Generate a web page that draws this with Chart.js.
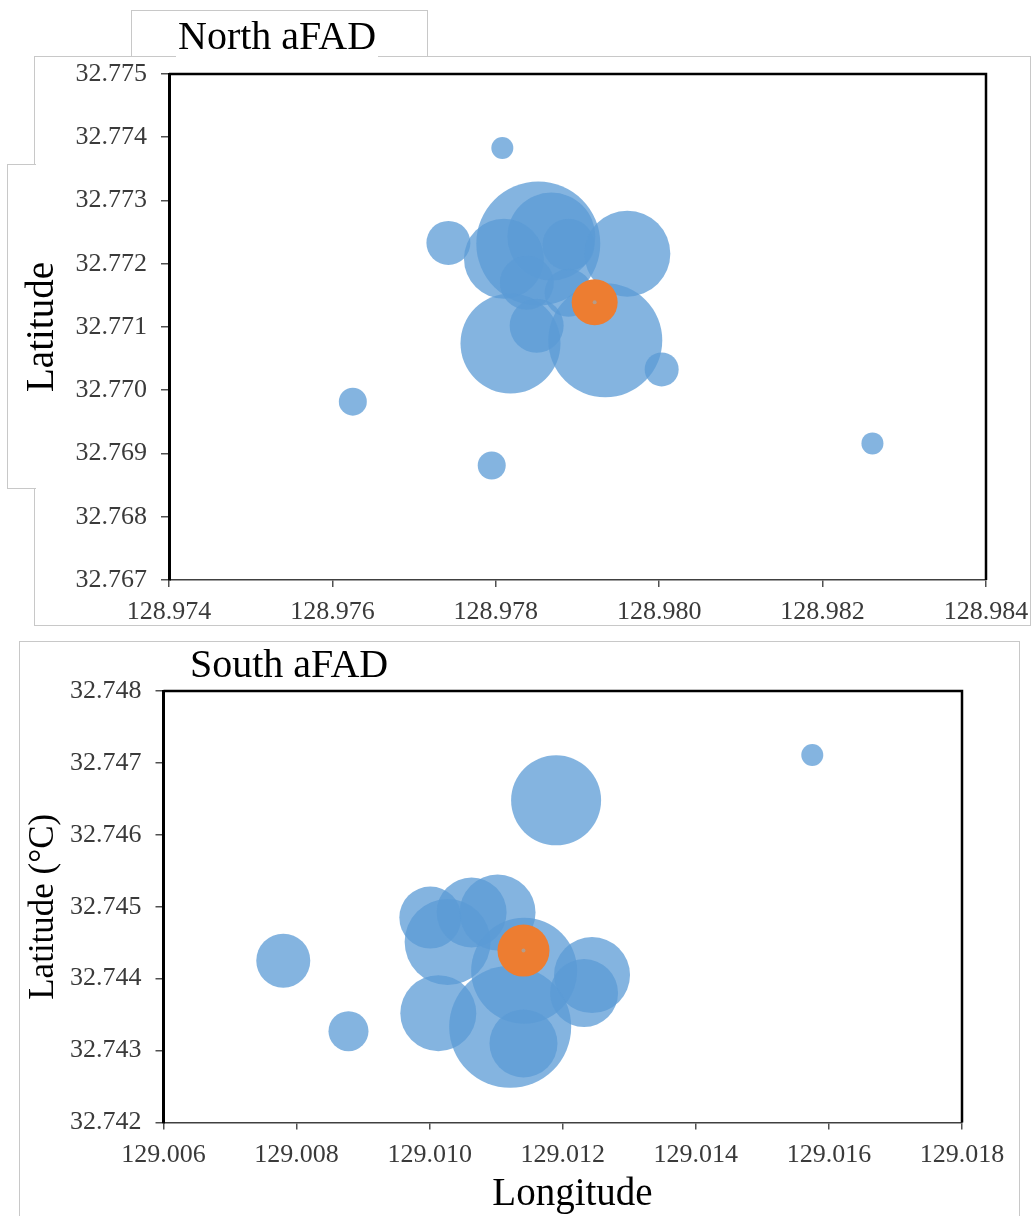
<!DOCTYPE html>
<html><head><meta charset="utf-8">
<script src="https://cdn.jsdelivr.net/npm/chart.js@4/dist/chart.umd.min.js"></script>
<style>
html,body{margin:0;padding:0;background:#fff;width:1036px;height:1216px;overflow:hidden;position:relative;font-family:"Liberation Serif","Times New Roman",serif}
.box{position:absolute;border:1px solid #c8c8c8;box-sizing:border-box}
.ttl{position:absolute;background:#fff;font-size:40px;line-height:40px;color:#000;white-space:nowrap;z-index:3}
canvas{position:absolute;left:0;z-index:2}
</style></head><body>
<div class="box" style="left:34px;top:56px;width:997px;height:570px"></div>
<div class="box" style="left:7px;top:164px;width:29px;height:325px;border-right:none;background:#fff;z-index:1"></div>
<div class="box" style="left:131px;top:10px;width:297px;height:46px;border-bottom:none"></div>
<div class="ttl" style="left:176px;top:16px;padding:0 2px;height:44px">North aFAD</div>
<div class="box" style="left:19px;top:641px;width:1001px;height:700px"></div>
<div class="ttl" style="left:190px;top:644px">South aFAD</div>
<canvas id="north" width="1036" height="640" style="top:0"></canvas>
<canvas id="south" width="1036" height="596" style="top:620px"></canvas>
<script>
// ---------- North aFAD ----------
const northLon  = [128.97808,128.97742,128.97852,128.97868,128.97810,128.97889,128.97961,128.97838,128.97889,128.97818,128.97934,128.97850,128.98003,128.97625,128.97795,128.98261];
const northLat  = [32.77383,32.77233,32.77232,32.77243,32.77208,32.77230,32.77216,32.77170,32.77154,32.77074,32.77079,32.77102,32.77033,32.76982,32.76881,32.76916];
const northSize = [11,22,62,44,40,26,43,27,24,50,57,27,17,14,14,11];
const northFAD  = {lon:128.97921, lat:32.77139, size:23};
const northXTicks = [128.974,128.976,128.978,128.980,128.982,128.984];
const northYTicks = [32.767,32.768,32.769,32.770,32.771,32.772,32.773,32.774,32.775];

// ---------- South aFAD ----------
const southLon  = [129.01001,129.01027,129.01063,129.01102,129.01142,129.01244,129.01232,129.01013,129.01121,129.01141,129.01190,129.01575,129.00780,129.00878];
const southLat  = [32.74485,32.74451,32.74492,32.74492,32.74411,32.74405,32.74380,32.74352,32.74333,32.74310,32.74648,32.74711,32.74425,32.74327];
const southSize = [31,43,35,38,53,38,34,38,61,34,45,11,27,20];
const southFAD  = {lon:129.01141, lat:32.74439, size:26};
const southXTicks = [129.006,129.008,129.010,129.012,129.014,129.016,129.018];
const southYTicks = [32.742,32.743,32.744,32.745,32.746,32.747,32.748];

const FONT = '"Liberation Serif","Times New Roman",serif';
const BLUE = 'rgba(91,155,213,0.75)';
const ORANGE = '#ED7D31';
const DOT = 'rgba(170,160,150,0.85)';

const framePlugin = {
  id:'frame',
  afterDraw(chart){
    const {ctx, chartArea:a} = chart;
    ctx.save();
    ctx.strokeStyle = '#000';
    ctx.lineWidth = 2.5;
    ctx.beginPath();
    ctx.moveTo(a.left, a.top); ctx.lineTo(a.right, a.top); ctx.lineTo(a.right, a.bottom);
    ctx.stroke();
    ctx.restore();
  }
};

function makeChart(id, lon, lat, size, fad, xTicks, yTicks, g){
  const pts = lon.map((x,i)=>({x, y:lat[i], r:size[i]}));
  new Chart(document.getElementById(id), {
    type:'bubble',
    data:{datasets:[
      {label:'dot', data:[{x:fad.lon, y:fad.lat, r:2}], backgroundColor:DOT, borderWidth:0, order:0, clip:false},
      {label:'aFAD', data:[{x:fad.lon, y:fad.lat, r:fad.size}], backgroundColor:ORANGE, borderWidth:0, order:1, clip:false},
      {label:'catch', data:pts, backgroundColor:BLUE, borderWidth:0, order:2, clip:false}
    ]},
    options:{
      responsive:false, animation:false, events:[],
      layout:{autoPadding:false, padding:{left:0, top:g.top, right:g.right, bottom:0}},
      plugins:{legend:{display:false}, tooltip:{enabled:false}},
      elements:{point:{hoverRadius:0}},
      scales:{
        x:{type:'linear', min:xTicks[0], max:xTicks[xTicks.length-1],
          afterBuildTicks(s){ s.ticks = xTicks.map(v=>({value:v})); },
          ticks:{callback:v=>Number(v).toFixed(3), font:{family:FONT, size:26}, color:'#3a3a3a', padding:g.xPad, maxRotation:0, autoSkip:false},
          grid:{drawOnChartArea:false, drawTicks:true, tickLength:7, color:'#505050', lineWidth:1.5},
          border:{display:true, color:'#404040', width:1.5},
          title:{display:!!g.xTitle, text:g.xTitle||'', color:'#000', font:{family:FONT, size:39, lineHeight:1}, padding:{top:0, bottom:2}},
          afterFit(s){ s.height = g.xH; s.paddingLeft = 0; s.paddingRight = 0; }
        },
        y:{type:'linear', min:yTicks[0], max:yTicks[yTicks.length-1],
          afterBuildTicks(s){ s.ticks = yTicks.map(v=>({value:v})); },
          ticks:{callback:v=>Number(v).toFixed(3), font:{family:FONT, size:26}, color:'#3a3a3a', padding:g.yPad, autoSkip:false},
          grid:{drawOnChartArea:false, drawTicks:true, tickLength:8, color:'#505050', lineWidth:1.5},
          border:{display:true, color:'#000', width:3},
          title:{display:true, text:g.yTitle, color:'#000', font:{family:FONT, size:g.yTitleSize, lineHeight:1.2}, padding:{top:g.yTitlePad, bottom:0}},
          afterFit(s){ s.width = g.yW; s.paddingTop = 0; s.paddingBottom = 0; }
        }
      }
    },
    plugins:[framePlugin]
  });
}

makeChart('north', northLon, northLat, northSize, northFAD, northXTicks, northYTicks,
  {top:74, right:50, xH:60, yW:169, xPad:10, yPad:14, yTitle:'Latitude', yTitleSize:39, yTitlePad:19});
makeChart('south', southLon, southLat, southSize, southFAD, southXTicks, southYTicks,
  {top:71, right:74, xH:93.5, yW:163.5, xPad:10, yPad:14, yTitle:'Latitude (°C)', yTitleSize:35, yTitlePad:23, xTitle:'\u00A0\u00A0Longitude'});
</script>
</body></html>
